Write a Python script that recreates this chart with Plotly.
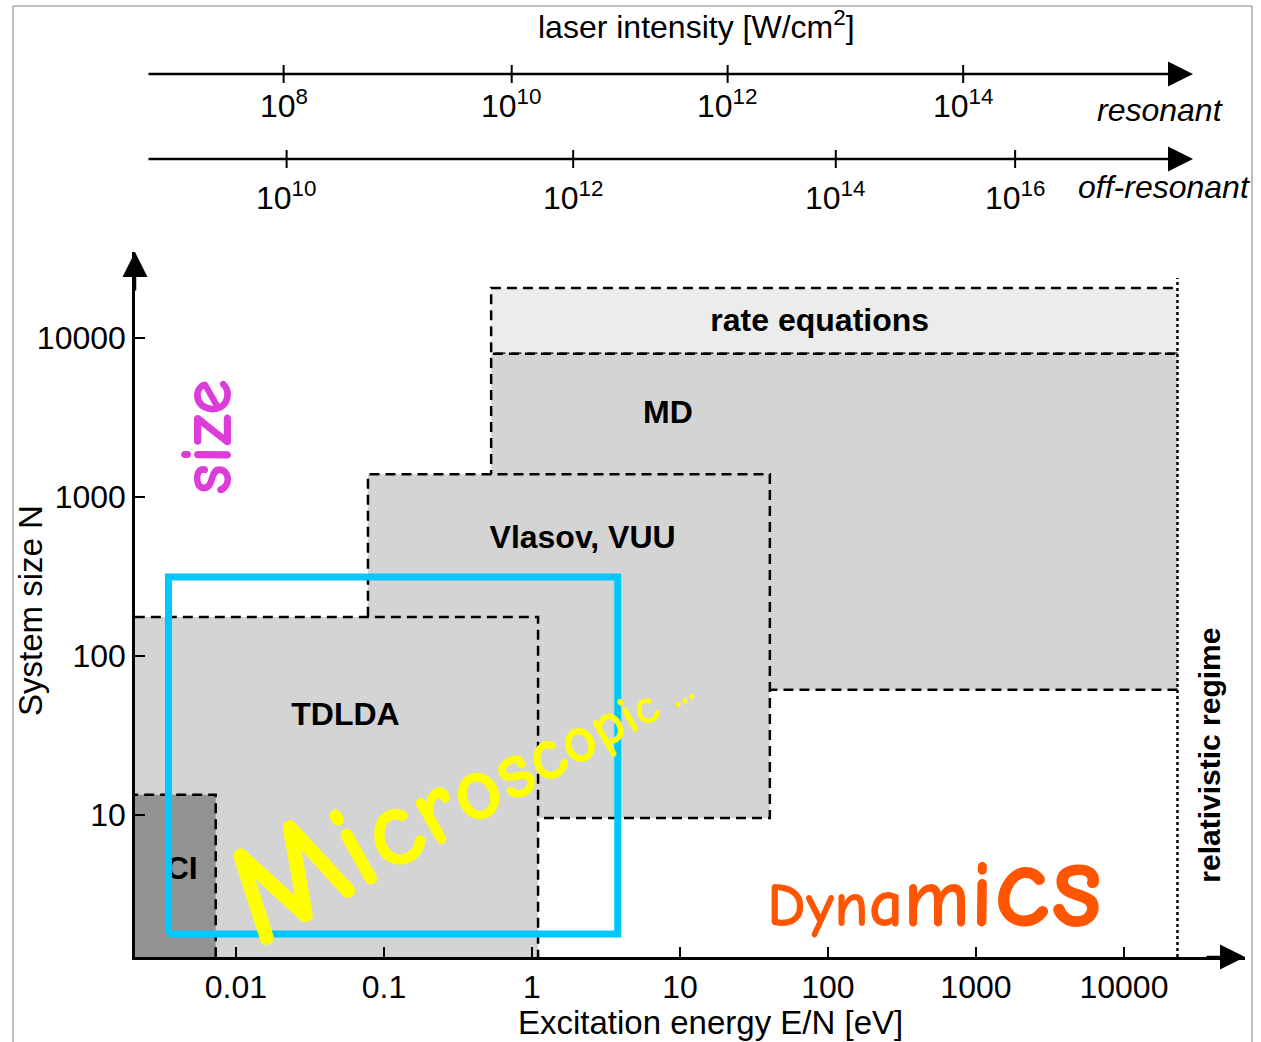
import numpy as np
import plotly.graph_objects as go

W, H = 1261, 1042
FONT = "Liberation Sans, Arial, sans-serif"
FUN = "Comic Sans MS, Comic Neue, Noto Sans, sans-serif"

# ---- main axes: excitation energy per particle vs. system size ----
energy_ticks = [0.01, 0.1, 1, 10, 100, 1000, 10000]
energy_ticktext = ["0.01", "0.1", "1", "10", "100", "1000", "10000"]
size_ticks = [10, 100, 1000, 10000]
size_ticktext = ["10", "100", "1000", "10000"]
log_e_range = [-2.682, 4.818]
log_n_range = [0.104, 4.538]

# ---- regions of applicability of the theoretical methods ----
method_names = ["rate equations", "MD", "Vlasov, VUU", "TDLDA", "CI"]
method_e_lo = [0.53, 0.53, 0.078, 0.001, 0.001]
method_e_hi = [23000, 23000, 40.5, 1.1, 0.0073]
method_n_lo = [7900, 61, 9.5, 1.0, 1.0]
method_n_hi = [20500, 7900, 1380, 175, 13.3]
method_open_right = [True, True, False, False, False]
method_fill = ["#ececec", "#d4d4d4", "#d4d4d4", "#d4d4d4", "#939393"]
label_e = [88, 8.3, 2.2, 0.055, 0.0043]
label_n = [12350, 3250, 532, 41, 4.4]

# microscopic (quantum) dynamics frame
micro_e = [0.0035, 3.8]
micro_n = [1.77, 312]

# onset of the relativistic regime
relativistic_e = 23000
relativistic_n_top = 23700

# ---- laser intensity scales, placed at the matching E/N ----
resonant_labels = ["10<sup>8</sup>", "10<sup>10</sup>", "10<sup>12</sup>", "10<sup>14</sup>"]
resonant_e = [0.021, 0.73, 21, 820]
offres_labels = ["10<sup>10</sup>", "10<sup>12</sup>", "10<sup>14</sup>", "10<sup>16</sup>"]
offres_e = [0.022, 1.9, 113, 1840]


def px_x(p):
    return p / W


def px_y(p):
    return 1 - p / H


def note(**kw):
    base = dict(showarrow=False, xanchor="center", yanchor="middle")
    base.update(kw)
    return base


fig = go.Figure()

# shaded regions with dashed borders; later regions overlay earlier ones
for name, e0, e1, n0, n1, open_r, col in zip(method_names, method_e_lo, method_e_hi,
                                             method_n_lo, method_n_hi,
                                             method_open_right, method_fill):
    fig.add_trace(go.Scatter(x=[e0, e1, e1, e0, e0], y=[n0, n0, n1, n1, n0],
                             mode="lines", fill="toself", fillcolor=col,
                             line=dict(width=0), hoverinfo="skip"))
    if open_r:
        ox, oy = [e1, e0, e0, e1], [n0, n0, n1, n1]
    else:
        ox, oy = [e0, e1, e1, e0, e0], [n0, n0, n1, n1, n0]
    fig.add_trace(go.Scatter(x=ox, y=oy, mode="lines",
                             line=dict(color="black", width=2.5, dash="10px,6px"),
                             hoverinfo="skip"))

# method names (drawn beneath the microscopic frame)
fig.add_trace(go.Scatter(x=label_e, y=label_n, mode="text",
                         text=[f"<b>{n}</b>" for n in method_names],
                         textposition="middle center",
                         textfont=dict(family=FONT, size=32, color="black"),
                         hoverinfo="skip"))

fig.add_trace(go.Scatter(x=[micro_e[0], micro_e[1], micro_e[1], micro_e[0], micro_e[0]],
                         y=[micro_n[0], micro_n[0], micro_n[1], micro_n[1], micro_n[0]],
                         mode="lines", line=dict(color="#00c8fc", width=7),
                         hoverinfo="skip"))

fig.add_trace(go.Scatter(x=[relativistic_e, relativistic_e],
                         y=[10 ** log_n_range[0], relativistic_n_top], mode="lines",
                         line=dict(color="black", width=2.5, dash="3px,3px"),
                         hoverinfo="skip"))

annotations = []
annotations.append(note(x=np.log10(38000), y=np.log10(23.7), xref="x", yref="y",
                        text="<b>relativistic regime</b>", textangle=-90,
                        font=dict(family=FONT, size=30, color="black")))

annotations.append(note(x=np.log10(0.0064), y=np.log10(2370), xref="x", yref="y",
                        text="<b>size</b>", textangle=-90,
                        font=dict(family=FUN, size=74, color="#dc3cd8")))

micro_sizes = [144, 125, 113, 103, 94, 84, 76, 68, 61, 55, 50, 43, 43, 43, 43]
micro_txt = "".join(f'<span style="font-size:{s}px">{c}</span>'
                    for c, s in zip("Microscopic ...", micro_sizes))
annotations.append(note(x=np.log10(0.3), y=np.log10(16), xref="x", yref="y",
                        text=f"<b>{micro_txt}</b>", textangle=-30,
                        font=dict(family=FUN, size=60, color="#ffff00")))

dyn_sizes = [62, 62, 64, 68, 84, 96, 120, 124]
dyn_txt = "".join(f'<span style="font-size:{s}px">{c}</span>'
                  for c, s in zip("Dynamics", dyn_sizes))
annotations.append(note(x=np.log10(528), y=np.log10(3.6), xref="x", yref="y",
                        text=f"<b>{dyn_txt}</b>",
                        font=dict(family=FUN, size=60, color="#ff5500")))

# axis titles
annotations.append(note(x=px_x(710), y=px_y(1022), xref="paper", yref="paper",
                        text="Excitation energy E/N [eV]",
                        font=dict(family=FONT, size=33, color="black")))
annotations.append(note(x=px_x(30), y=px_y(611), xref="paper", yref="paper",
                        text="System size N", textangle=-90,
                        font=dict(family=FONT, size=33, color="black")))

# arrow heads on the main axes
annotations.append(dict(x=1, y=0, xref="x domain", yref="y domain", ax=-40, ay=0,
                        text="", showarrow=True, arrowhead=2, arrowsize=2,
                        arrowwidth=2.5, arrowcolor="black"))
annotations.append(dict(x=0, y=1, xref="x domain", yref="y domain", ax=0, ay=40,
                        text="", showarrow=True, arrowhead=2, arrowsize=2,
                        arrowwidth=2.5, arrowcolor="black"))

# laser intensity scales
annotations.append(note(x=px_x(696), y=px_y(25), xref="paper", yref="paper",
                        text="laser intensity [W/cm<sup>2</sup>]",
                        font=dict(family=FONT, size=32, color="black")))
shapes = []
for row_y, lab_y, labels, evals, tag, tag_x, tag_y in [
        (74, 104, resonant_labels, resonant_e, "resonant", 1160, 110),
        (159, 196, offres_labels, offres_e, "off-resonant", 1164, 187)]:
    annotations.append(dict(x=px_x(1193), y=px_y(row_y), xref="paper", yref="paper",
                            ax=-(1193 - 147), ay=0, text="", showarrow=True,
                            arrowhead=2, arrowsize=2, arrowwidth=2.5,
                            arrowcolor="black"))
    for lab, e in zip(labels, evals):
        shapes.append(dict(type="line", xref="x", yref="paper", x0=e, x1=e,
                           y0=px_y(row_y - 9), y1=px_y(row_y + 9),
                           line=dict(color="black", width=2)))
        annotations.append(note(x=np.log10(e), y=px_y(lab_y), xref="x", yref="paper",
                                text=lab,
                                font=dict(family=FONT, size=32, color="black")))
    annotations.append(note(x=px_x(tag_x), y=px_y(tag_y), xref="paper", yref="paper",
                            text=f"<i>{tag}</i>",
                            font=dict(family=FONT, size=32, color="black")))

# thin frame around the figure
shapes.append(dict(type="rect", xref="paper", yref="paper", x0=px_x(13), x1=px_x(1252),
                   y0=-0.05, y1=px_y(6), line=dict(color="#7f7f7f", width=1)))

axis_common = dict(showgrid=False, zeroline=False, showline=True, linecolor="black",
                   linewidth=2.5, ticks="inside", ticklen=10, tickwidth=2,
                   tickcolor="black", tickfont=dict(family=FONT, size=32, color="black"))

fig.update_layout(
    width=W, height=H, margin=dict(l=0, r=0, t=0, b=0),
    paper_bgcolor="white", plot_bgcolor="rgba(0,0,0,0)", showlegend=False,
    xaxis=dict(type="log", range=log_e_range, domain=[px_x(135), px_x(1245)],
               tickvals=energy_ticks, ticktext=energy_ticktext, **axis_common),
    yaxis=dict(type="log", range=log_n_range, domain=[px_y(957), px_y(252)],
               tickvals=size_ticks, ticktext=size_ticktext, **axis_common),
    annotations=annotations, shapes=shapes,
)

fig.write_html("out.html")
